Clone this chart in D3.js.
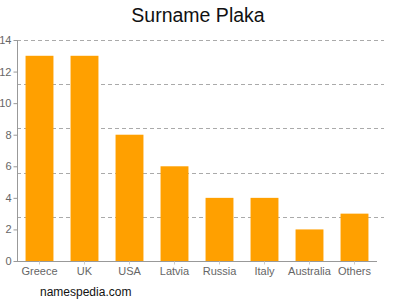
<!DOCTYPE html>
<html><head><meta charset="utf-8">
<script src="https://cdn.jsdelivr.net/npm/d3@7"></script>
<style>body{margin:0;background:#fff}svg{display:block}text{font-family:"Liberation Sans",Arial,sans-serif}</style>
</head><body>
<svg id="c" width="400" height="300"></svg>
<script>
const categories = ["Greece","UK","USA","Latvia","Russia","Italy","Australia","Others"];
const values = [13,13,8,6,4,4,2,3];
const yTicks = [0,2,4,6,8,10,12,14];
const gridValues = [2.8,5.6,8.4,11.2,14];

(function(){
const svg = d3.select("#c");
const mLeft = 17, mRight = 377, mTop = 40, mBottom = 261;
const x = d3.scaleBand().domain(categories).range([mLeft,mRight]).paddingInner(0.38).paddingOuter(0.19);
const y = d3.scaleLinear().domain([0,14]).range([mBottom,mTop]);

svg.append("text").attr("x",198).attr("y",22).attr("text-anchor","middle")
  .attr("font-size",19.5).attr("fill","#111").text("Surname Plaka");

svg.append("g").selectAll("line").data(gridValues).join("line")
  .attr("x1",mLeft).attr("x2",384)
  .attr("y1",d=>Math.round(y(d))+0.5).attr("y2",d=>Math.round(y(d))+0.5)
  .attr("stroke","#aaa").attr("stroke-dasharray","4,3");

svg.append("g").selectAll("rect").data(values).join("rect")
  .attr("x",(d,i)=>x(categories[i])).attr("width",x.bandwidth())
  .attr("y",d=>y(d)).attr("height",d=>y(0)-y(d))
  .attr("fill","#ffa000");

const ya = svg.append("g").attr("transform",`translate(${mLeft+0.5},0)`)
  .call(d3.axisLeft(y).tickValues(yTicks).tickSize(4).tickPadding(2).tickFormat(d3.format("d")));
ya.select(".domain").attr("stroke","#999").attr("d",`M0,${mTop}V${mBottom}`);
ya.selectAll(".tick line").attr("stroke","#999");
ya.selectAll(".tick text").attr("fill","#666").attr("font-size",11).attr("font-family","Liberation Sans, Arial, sans-serif");

const xa = svg.append("g").attr("transform",`translate(0,${mBottom+0.5})`)
  .call(d3.axisBottom(x).tickSize(3).tickPadding(3));
xa.select(".domain").attr("stroke","#999").attr("d",`M${mLeft},0H${mRight}`);
xa.selectAll(".tick line").attr("stroke","#ccc");
xa.selectAll(".tick text").attr("fill","#666").attr("font-size",11).attr("font-family","Liberation Sans, Arial, sans-serif");

svg.append("text").attr("x",40).attr("y",296).attr("font-size",12).attr("fill","#111").text("namespedia.com");
})();
</script>
</body></html>
